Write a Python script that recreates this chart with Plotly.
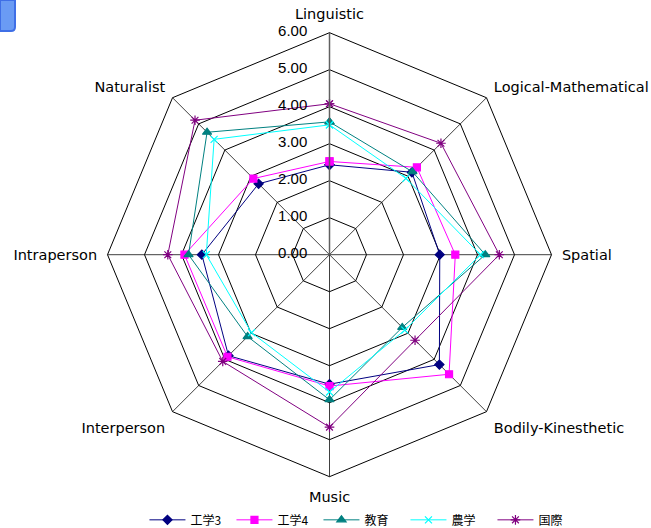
import plotly.graph_objects as go

categories = ["Linguistic", "Logical-Mathematical", "Spatial", "Bodily-Kinesthetic",
              "Music", "Interperson", "Intraperson", "Naturalist"]

eng3 = [2.43, 3.15, 2.98, 4.20, 3.50, 3.86, 3.45, 2.71]
eng4 = [2.52, 3.34, 3.40, 4.57, 3.55, 3.90, 3.92, 2.91]
edu = [3.59, 3.17, 4.21, 2.78, 3.92, 3.13, 3.81, 4.68]
agri = [3.51, 2.92, 4.08, 2.88, 3.71, 2.98, 3.33, 4.41]
intl = [4.08, 4.26, 4.59, 3.27, 4.66, 4.08, 4.37, 5.14]

series_names = ["工学3", "工学4", "教育", "農学", "国際"]
series_values = [eng3, eng4, edu, agri, intl]
tick_values = [0, 1, 2, 3, 4, 5, 6]

colors = ["#000080", "#FF00FF", "#008080", "#00FFFF", "#800080"]
symbols = ["diamond", "square", "triangle-up", "x-thin-open", "asterisk-open"]
sizes = [7, 7, 8, 7, 8]

CJK = "Noto Sans CJK JP, DejaVu Sans, sans-serif"
LATIN = "DejaVu Sans, sans-serif"

fig = go.Figure()
for name, vals, col, sym, sz in zip(series_names, series_values, colors, symbols, sizes):
    fig.add_trace(go.Scatterpolar(
        r=vals + vals[:1],
        theta=categories + categories[:1],
        mode="lines+markers",
        name=name,
        line=dict(color=col, width=1),
        marker=dict(color=col, symbol=sym, size=sz, line=dict(color=col, width=1.2)),
    ))

# value labels for the radial scale, set along the Linguistic spoke
# (the centre point is nudged off r=0 so that it is still rendered)
fig.add_trace(go.Scatterpolar(
    r=[max(v, 1e-4) for v in tick_values],
    theta=[categories[0]] * len(tick_values),
    mode="markers+text",
    text=[f"{v:.2f}" for v in tick_values],
    textposition="middle left",
    textfont=dict(size=15, family="Liberation Sans, Arial, sans-serif", color="black"),
    marker=dict(size=34, opacity=0),
    cliponaxis=False,
    showlegend=False,
    hoverinfo="skip",
))

fig.update_layout(
    width=651, height=528,
    margin=dict(l=0, r=0, t=0, b=0, autoexpand=False),
    paper_bgcolor="white",
    font=dict(family=CJK, color="black"),
    polar=dict(
        domain=dict(x=[107.5 / 651, 551.5 / 651], y=[1 - 476.7 / 528, 1 - 32.7 / 528]),
        bgcolor="white",
        gridshape="linear",
        angularaxis=dict(
            direction="clockwise", rotation=90,
            showline=True, linecolor="black", linewidth=1,
            gridcolor="#404040", gridwidth=1,
            ticks="outside", ticklen=7, tickcolor="rgba(0,0,0,0)",
            tickfont=dict(size=14.5, family=LATIN),
        ),
        radialaxis=dict(
            range=[0, 6], tickvals=tick_values,
            angle=90, showticklabels=False,
            showline=True, linecolor="#606060", linewidth=1.5,
            gridcolor="black", gridwidth=1,
            ticks="",
        ),
    ),
    legend=dict(
        orientation="h", x=0.556, xanchor="center", y=-0.012, yanchor="bottom",
        bgcolor="rgba(0,0,0,0)",
        font=dict(size=12, family=CJK), itemwidth=36,
        entrywidth=36, entrywidthmode="pixels",
    ),
    showlegend=True,
)

# small rounded blue tab in the top-left corner
fig.add_shape(
    type="path", xref="paper", yref="paper",
    path="M 0 1 L {r} 1 L {r} {b2} Q {r} {b} {r2} {b} L 0 {b} Z".format(
        r=15 / 651, r2=11 / 651, b=1 - 31 / 528, b2=1 - 27 / 528),
    fillcolor="#6A9BF4", line=dict(color="#3F6FE6", width=2),
)

fig.write_html("out.html")
